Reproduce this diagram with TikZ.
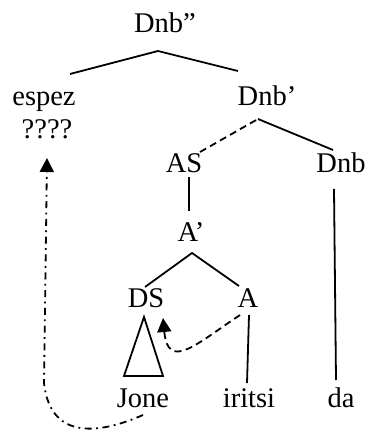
\documentclass[tikz,border=0pt]{standalone}
\usepackage{fontspec}
\setmainfont{Liberation Serif}
\usetikzlibrary{arrows.meta}

\begin{document}
\begin{tikzpicture}[
    x=1pt,y=1pt,
    lbl/.style={anchor=base,inner sep=0pt,font=\fontsize{28.5}{30}\selectfont},
    branch/.style={line width=1.8pt},
    movedash/.style={line width=1.8pt,dash pattern=on 7pt off 4.5pt},
    movedashdot/.style={line width=1.8pt,dash pattern=on 7pt off 4.5pt on 1.8pt off 4.5pt},
    movetip/.style={-{Triangle[length=14pt,width=14pt]}}
  ]
    \useasboundingbox (0,0) rectangle (367,433);

    \node[lbl] (dnbb) at (165,400) {Dnb”};
    \node[lbl] (espez) at (44,327) {espez};
    \node[lbl] (qqqq) at (47,294) {????};
    \node[lbl] (dnbp) at (267,327) {Dnb’};
    \node[lbl] (as) at (184,260) {AS};
    \node[lbl] (dnb) at (341,260) {Dnb};
    \node[lbl] (ap) at (191,191) {A’};
    \node[lbl] (ds) at (146,125) {DS};
    \node[lbl] (a) at (248,125) {A};
    \node[lbl] (jone) at (143,25) {Jone};
    \node[lbl] (iritsi) at (249,25) {iritsi};
    \node[lbl] (da) at (341,25) {da};

    \draw[branch] ([shift={(26,32)}]espez.base) -- ([shift={(-7,-18)}]dnbb.base)
      -- ([shift={(-29,35)}]dnbp.base);
    \draw[movedash] ([shift={(16,21)}]as.base) -- ([shift={(-9,-13)}]dnbp.base);
    \draw[branch] ([shift={(-9,-13)}]dnbp.base) -- ([shift={(-8,23)}]dnb.base);
    \draw[branch] ([shift={(5,-4)}]as.base) -- ([shift={(-2,31)}]ap.base);
    \draw[branch] ([shift={(-1,21)}]ds.base) -- ([shift={(1,-11)}]ap.base)
      -- ([shift={(-9,22)}]a.base);
    \draw[branch] ([shift={(1,-7)}]a.base) -- ([shift={(-2,25)}]iritsi.base);
    \draw[branch] ([shift={(-7,-16)}]dnb.base) -- ([shift={(-5,28)}]da.base);
    \draw[branch] ([shift={(-2,-9)}]ds.base) -- ([shift={(-19,32)}]jone.base)
      -- ([shift={(20,32)}]jone.base) -- cycle;

    \draw[movedash,movetip] ([shift={(-8,-7)}]a.base)
      .. controls (195,88) and (168,62) .. ([shift={(17,-10)}]ds.base);
    \draw[movedashdot,movetip] ([shift={(0,-7)}]jone.base)
      .. controls (95,-3) and (50,-5) .. (44,50) -- ([shift={(0,-19)}]qqqq.base);
  \end{tikzpicture}
\end{document}
